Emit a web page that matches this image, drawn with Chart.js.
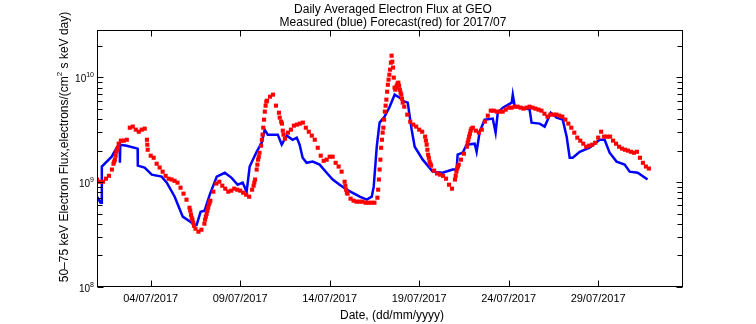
<!DOCTYPE html>
<html>
<head>
<meta charset="utf-8">
<script src="https://cdn.jsdelivr.net/npm/chart.js"></script>
<style>
html, body { margin: 0; padding: 0; background: #fff; }
#wrap { width: 756px; height: 324px; }
</style>
</head>
<body>
<div id="wrap"><canvas id="fluxChart" width="756" height="324"></canvas></div>
<script>
// x values are days since 01/07/2017 00:00, flux values are in units of 1e9
const xTickDays = [3, 8, 13, 18, 23, 28];
const xTickLabels = ['04/07/2017', '09/07/2017', '14/07/2017', '19/07/2017', '24/07/2017', '29/07/2017'];
const yMajorExps = [8, 9, 10];

// measured (blue)
const blueDays = [0, 0.2, 0.26, 0.27, 0.82, 1.10, 1.27, 1.28, 1.30, 1.66, 2.27, 2.28, 2.66, 3.06, 3.61,
    3.90, 4.34, 4.79, 5.46, 5.57, 5.79, 6.01, 6.30, 6.69, 7.14, 7.52, 7.86, 8.14, 8.36, 8.53,
    8.92, 9.20, 9.37, 9.54, 10.10, 10.32, 10.60, 10.93, 11.16, 11.32, 11.49, 11.71, 12.05, 12.44, 12.83,
    13.17, 13.56, 13.95, 14.68, 15.07, 15.35, 15.46, 15.63, 15.79, 16.07, 16.35, 16.63, 16.91, 17.19, 17.36,
    17.58, 17.75, 18.20, 18.75, 19.31, 19.87, 20.09, 20.15, 20.43, 20.65, 21.10, 21.21, 21.38, 21.66, 22.11,
    22.27, 22.39, 22.67, 23.17, 23.23, 23.34, 23.78, 24.17, 24.28, 24.73, 25.01, 25.18, 25.35, 25.68, 26.02,
    26.24, 26.41, 26.58, 26.97, 27.52, 28.08, 28.36, 28.64, 29.03, 29.48, 29.76, 30.21, 30.76];
const blueFlux = [0.727, 0.637, 0.637, 1.41, 1.75, 2.13, 2.28, 1.53, 2.28, 2.23, 2.09, 1.44, 1.38, 1.18, 1.13,
    0.99, 0.727, 0.469, 0.393, 0.393, 0.523, 0.535, 0.760, 1.13, 1.23, 1.10, 0.946, 0.99, 0.812, 1.41,
    1.95, 2.38, 3.17, 2.84, 2.84, 2.28, 2.78, 2.54, 2.66, 2.28, 1.71, 1.53, 1.57, 1.47, 1.23,
    1.06, 0.946, 0.848, 0.727, 0.681, 0.727, 0.906, 2.18, 3.70, 4.22, 5.25, 6.84, 6.4, 5.87, 5.74,
    3.17, 2.18, 1.64, 1.26, 1.23, 1.32, 1.32, 1.83, 1.91, 2.28, 2.33, 1.95, 3.03, 3.95, 4.04,
    2.97, 4.60, 5.14, 5.74, 6.84, 5.25, 5.14, 4.92, 3.70, 3.62, 3.39, 3.95, 4.60, 4.13, 3.95,
    2.72, 1.71, 1.71, 1.95, 2.13, 2.54, 2.54, 1.91, 1.57, 1.47, 1.26, 1.23, 1.06];

// forecast (red), one value every 4 hours from 01/07 00:00
const redStepDays = 1 / 6;
const redFlux = [
    1.06, 1.01, 1.01, 1.08, 1.15, 1.32,
    1.64, 2.13, 2.49, 2.49, 2.54, 3.31,
    3.39, 3.17, 3.03, 3.17, 3.24, 2.04,
    1.79, 1.71, 1.50, 1.38, 1.26, 1.15,
    1.08, 1.06, 1.03, 0.99, 0.886, 0.777,
    0.681, 0.571, 0.439, 0.360, 0.337, 0.352,
    0.402, 0.535, 0.666, 0.812, 0.97, 1.01,
    0.926, 0.867, 0.812, 0.830, 0.867, 0.848,
    0.830, 0.794, 0.760, 0.727, 0.848, 1.06,
    1.64, 2.23, 3.95, 5.99, 6.54, 6.84,
    5.37, 4.60, 3.62, 2.60, 2.97, 3.17,
    3.46, 3.54, 3.62, 3.70, 3.31, 3.03,
    2.78, 2.54, 2.13, 1.79, 1.60, 1.64,
    1.75, 1.75, 1.53, 1.41, 1.26, 1.01,
    0.777, 0.696, 0.666, 0.652, 0.652, 0.652,
    0.637, 0.637, 0.637, 0.637, 0.711, 1.64,
    3.31, 6.13, 10.6, 14.1, 7.63, 8.9,
    6.84, 5.25, 4.41, 3.78, 3.54, 3.39,
    3.17, 3.03, 2.72, 1.83, 1.44, 1.29,
    1.21, 1.18, 1.15, 1.08, 0.946, 0.867,
    1.06, 1.41, 1.64, 1.87, 2.18, 2.90,
    3.31, 3.10, 2.97, 3.17, 3.78, 4.31,
    4.81, 4.81, 4.71, 4.71, 4.71, 4.92,
    5.14, 5.14, 5.25, 5.25, 5.14, 5.03,
    5.14, 5.25, 5.14, 5.03, 4.92, 4.81,
    4.50, 4.22, 4.41, 4.41, 4.41, 4.31,
    4.22, 3.95, 3.62, 3.31, 2.97, 2.66,
    2.49, 2.33, 2.18, 2.23, 2.28, 2.38,
    2.66, 3.03, 2.72, 2.72, 2.72, 2.49,
    2.33, 2.18, 2.09, 2.04, 2.00, 1.95,
    1.91, 1.95, 1.71, 1.53, 1.41, 1.35
];
// extra forecast points read on the steep parts (hourly there)
const redExtraDays = [0.92, 0.96, 1.04, 1.08, 1.125, 1.21, 2.79, 2.81, 5.21, 5.25, 5.29, 5.375, 5.42,
    6.04, 6.08, 6.125, 6.21, 6.25, 6.29, 8.75, 8.79, 8.92, 8.96, 9.04, 9.08, 9.21, 9.25, 9.29, 9.375, 9.42, 9.46,
    10.21, 10.29, 10.38, 10.42, 13.875, 13.92, 13.96, 15.71, 15.75, 15.79, 15.875, 15.92, 15.96,
    16.04, 16.08, 16.125, 16.21, 16.25, 16.29, 16.375, 16.42, 16.46, 16.54, 16.58, 16.625, 16.71, 16.75, 16.79,
    16.875, 16.92, 16.96, 17.04, 17.08, 18.375, 18.42, 18.46, 18.54, 18.58, 18.625,
    20.04, 20.08, 20.125, 20.21, 20.71, 20.75, 20.79, 20.875, 20.92];
const redExtraFlux = [1.50, 1.57, 1.79, 1.95, 2.04, 2.33, 2.54, 2.28, 0.535, 0.490, 0.458, 0.410, 0.384,
    0.439, 0.469, 0.500, 0.571, 0.610, 0.637, 0.926, 0.99, 1.32, 1.47, 1.75, 1.91, 2.54, 2.84, 3.31, 4.71, 5.37, 5.87,
    4.13, 3.78, 3.10, 2.84, 0.926, 0.848, 0.794, 0.848, 1.06, 1.32, 2.13, 2.54, 2.97,
    3.95, 4.71, 5.37, 7.3, 8.5, 9.51, 11.85, 13.8, 16.1, 12.4, 9.94, 7.98, 7.98, 8.33, 8.71,
    8.33, 7.63, 7.15, 6.26, 5.74, 2.49, 2.28, 2.04, 1.71, 1.57, 1.50,
    1.15, 1.26, 1.35, 1.47, 2.38, 2.54, 2.72, 3.10, 3.24];

const FONT = '"Liberation Sans", Arial, sans-serif';

// 建立資料點
const bluePoints = blueDays.map((d, i) => ({ x: d, y: blueFlux[i] * 1e9 }));
const redPoints = redFlux.map((v, i) => ({ x: i * redStepDays, y: v * 1e9 }))
    .concat(redExtraDays.map((d, i) => ({ x: d, y: redExtraFlux[i] * 1e9 })));

// draws text with a superscript part, returns total width
function drawSup(ctx, base, sup, after, x, y, size, supSize, align) {
    ctx.font = size + 'px ' + FONT;
    const wBase = ctx.measureText(base).width;
    const wAfter = after ? ctx.measureText(after).width : 0;
    ctx.font = supSize + 'px ' + FONT;
    const wSup = ctx.measureText(sup).width;
    const total = wBase + wSup + wAfter;
    let x0 = x;
    if (align === 'right') x0 = x - total;
    if (align === 'center') x0 = x - total / 2;
    ctx.textAlign = 'left';
    ctx.textBaseline = 'middle';
    ctx.font = size + 'px ' + FONT;
    ctx.fillText(base, x0, y);
    ctx.font = supSize + 'px ' + FONT;
    ctx.fillText(sup, x0 + wBase, y - size * 0.4);
    if (after) {
        ctx.font = size + 'px ' + FONT;
        ctx.fillText(after, x0 + wBase + wSup, y);
    }
    return total;
}

// 坐標軸框、刻度與文字
const axisDecor = {
    id: 'axisDecor',
    afterDraw(chart) {
        const { ctx, chartArea: a, scales: { x, y } } = chart;
        ctx.save();
        ctx.strokeStyle = '#000';
        ctx.fillStyle = '#000';
        ctx.lineWidth = 1;
        const L = Math.round(a.left) + 0.5, R = Math.round(a.right) - 0.5;
        const T = Math.round(a.top) + 0.5, B = Math.round(a.bottom) - 0.5;
        ctx.strokeRect(L, T, R - L, B - T);

        ctx.beginPath();
        xTickDays.forEach(d => {
            const px = Math.round(x.getPixelForValue(d)) + 0.5;
            ctx.moveTo(px, B); ctx.lineTo(px, B - 6);
            ctx.moveTo(px, T); ctx.lineTo(px, T + 6);
        });
        for (let e = 8; e <= 10; e++) {
            for (let m = 1; m <= 9; m++) {
                const v = m * Math.pow(10, e);
                if (v > y.max) break;
                const py = Math.round(y.getPixelForValue(v)) + 0.5;
                const len = m === 1 ? 6 : 5;
                ctx.moveTo(L, py); ctx.lineTo(L + len, py);
                ctx.moveTo(R, py); ctx.lineTo(R - len, py);
            }
        }
        ctx.stroke();

        // x tick labels
        ctx.font = '11px ' + FONT;
        ctx.textAlign = 'center';
        ctx.textBaseline = 'middle';
        xTickDays.forEach((d, i) => {
            ctx.fillText(xTickLabels[i], x.getPixelForValue(d), 299);
        });
        // y tick labels
        yMajorExps.forEach(e => {
            drawSup(ctx, '10', String(e), '', 94, y.getPixelForValue(Math.pow(10, e)) + 2, 10, 7, 'right');
        });

        // axis titles
        ctx.font = '12px ' + FONT;
        ctx.textAlign = 'center';
        ctx.fillText('Date, (dd/mm/yyyy)', (a.left + a.right) / 2 + 2, 316);

        ctx.save();
        ctx.translate(65, 147);
        ctx.rotate(-Math.PI / 2);
        drawSup(ctx, '50\u201375 keV Electron Flux,electrons/(cm', '2', ' s keV day)', 0, 0, 12, 8, 'center');
        ctx.restore();

        // title
        ctx.font = '12px ' + FONT;
        ctx.textAlign = 'center';
        ctx.fillText('Daily Averaged Electron Flux at GEO', 393, 10);
        ctx.fillText('Measured (blue) Forecast(red) for 2017/07', 393, 23);
        ctx.restore();
    }
};

new Chart(document.getElementById('fluxChart'), {
    type: 'line',
    data: {
        datasets: [
            {
                label: 'Forecast',
                data: redPoints,
                showLine: false,
                pointStyle: 'rect',
                pointRadius: 2.9,
                pointBackgroundColor: '#ff0000',
                pointBorderWidth: 0,
                borderColor: '#ff0000'
            },
            {
                label: 'Measured',
                data: bluePoints,
                borderColor: '#0000ff',
                borderWidth: 2.5,
                pointRadius: 0,
                tension: 0,
                fill: false
            }
        ]
    },
    options: {
        responsive: false,
        animation: false,
        devicePixelRatio: 1,
        layout: { padding: { left: 97, right: 73, top: 30, bottom: 37 } },
        plugins: {
            legend: { display: false },
            tooltip: { enabled: false },
            title: { display: false }
        },
        scales: {
            x: { type: 'linear', display: false, min: 0, max: 32.74 },
            y: { type: 'logarithmic', display: false, min: 1e8, max: 2.83e10 }
        }
    },
    plugins: [axisDecor]
});
</script>
</body>
</html>
